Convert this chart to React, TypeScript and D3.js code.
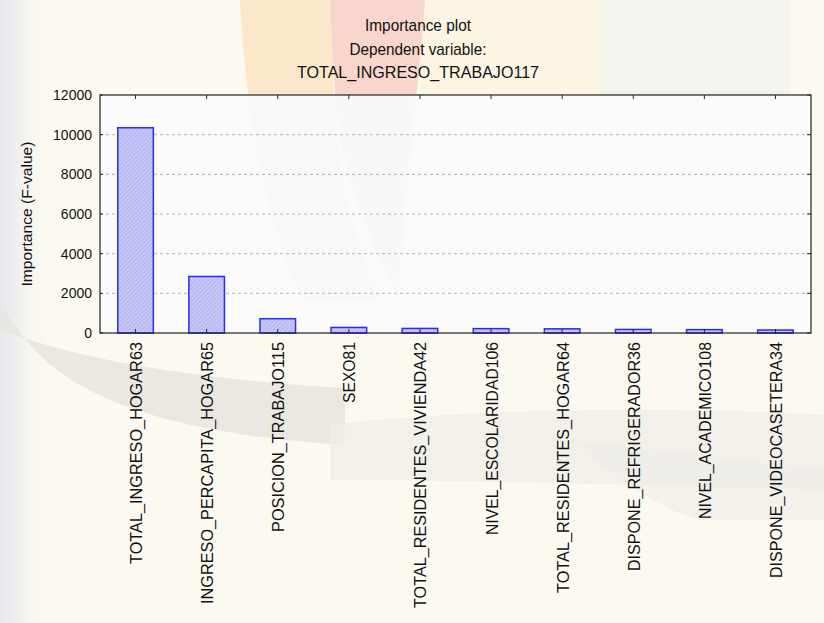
import React from "react";
import * as d3 from "d3";

const categories = [
  "TOTAL_INGRESO_HOGAR63",
  "INGRESO_PERCAPITA_HOGAR65",
  "POSICION_TRABAJO115",
  "SEXO81",
  "TOTAL_RESIDENTES_VIVIENDA42",
  "NIVEL_ESCOLARIDAD106",
  "TOTAL_RESIDENTES_HOGAR64",
  "DISPONE_REFRIGERADOR36",
  "NIVEL_ACADEMICO108",
  "DISPONE_VIDEOCASETERA34",
];
const importance = [10350, 2850, 720, 280, 230, 220, 210, 180, 170, 150];
const yTicks = [0, 2000, 4000, 6000, 8000, 10000, 12000];
const titleLines = ["Importance plot", "Dependent variable:", "TOTAL_INGRESO_TRABAJO117"];
const yLabel = "Importance (F-value)";

const W = 824;
const H = 623;
const left = 100;
const right = 811;
const top = 95;
const bottom = 333;

// approximate rendered label lengths (px)
const labelLen = [222, 262, 190, 61, 266, 193, 251, 229, 177, 236];

export default function App() {
  const x = d3.scaleBand<string>().domain(categories).range([left, right]).paddingInner(0.5).paddingOuter(0.25);
  const y = d3.scaleLinear().domain([0, 12000]).range([bottom, top]);
  const font = "'Liberation Sans', Arial, sans-serif";

  return (
    <svg width={W} height={H} style={{ position: "absolute", left: 0, top: 0, display: "block" }}>
      <defs>
        <pattern id="hatch" width="3" height="3" patternUnits="userSpaceOnUse" patternTransform="rotate(45)">
          <rect width="3" height="3" fill="#c8c8f8" />
          <line x1="0" y1="0" x2="0" y2="3" stroke="#a4a4ec" strokeWidth="1.2" />
        </pattern>
        <linearGradient id="leftfade" x1="0" x2="1" y1="0" y2="0">
          <stop offset="0" stopColor="#e6e6ee" />
          <stop offset="1" stopColor="#fbf9f0" stopOpacity="0" />
        </linearGradient>
      </defs>
      {/* page background & watermark */}
      <rect x={0} y={0} width={W} height={H} fill="#fcfaf0" />
      <rect x={0} y={0} width={60} height={H} fill="url(#leftfade)" />
      <path d="M600,0 L790,0 L790,100 L600,100 Z" fill="#f3f1ec" opacity={0.8} />
      <path d="M420,0 L600,0 L600,100 L420,100 Z" fill="#fcf4e2" opacity={0.9} />
      <path d="M240,0 L335,0 C330,90 330,180 380,300 L300,300 C260,200 245,100 240,0 Z" fill="#fbe6c6" opacity={0.9} />
      <path d="M330,0 L425,0 C420,80 405,180 398,300 C370,240 340,170 335,100 Z" fill="#f7d2ca" opacity={0.9} />
      <path d="M0,300 C40,380 120,430 345,445 L345,388 C200,380 80,360 0,330 Z" fill="#e8e5df" opacity={0.9} />
      <path d="M330,425 C450,410 650,405 824,415 L824,490 C650,485 450,480 330,480 Z" fill="#efede6" opacity={0.8} />
      <path d="M570,440 C620,480 660,510 700,520 L824,520 L824,470 Z" fill="#ecebe6" opacity={0.6} />
      {/* plot background */}
      <rect x={left} y={top} width={right - left} height={bottom - top} fill="#f7f7fa" opacity={0.85} />
      <rect x={left} y={top} width={right - left} height={bottom - top} fill="#ffffff" opacity={0.4} />
      {/* gridlines */}
      {yTicks.filter((t) => t > 0 && t < 12000).map((t) => (
        <line key={"g" + t} x1={left} x2={right} y1={y(t)} y2={y(t)} stroke="#b4b4b4" strokeWidth={1} strokeDasharray="3,3" />
      ))}
      {/* bars */}
      {categories.map((c, i) => (
        <rect
          key={c}
          x={x(c)!}
          y={y(importance[i])}
          width={x.bandwidth()}
          height={bottom - y(importance[i])}
          fill="url(#hatch)"
          stroke="#2b2bf5"
          strokeWidth={1.5}
        />
      ))}
      {/* frame */}
      <rect x={left} y={top} width={right - left} height={bottom - top} fill="none" stroke="#222" strokeWidth={1.2} />
      {/* ticks: top & bottom at band centers */}
      {categories.map((c) => {
        const cx = x(c)! + x.bandwidth() / 2;
        return (
          <g key={"t" + c}>
            <line x1={cx} x2={cx} y1={top} y2={top + 4} stroke="#222" />
            <line x1={cx} x2={cx} y1={bottom} y2={bottom - 4} stroke="#222" />
          </g>
        );
      })}
      {yTicks.map((t) => (
        <g key={"yt" + t}>
          <line x1={right} x2={right - 4} y1={y(t)} y2={y(t)} stroke="#222" />
          <line x1={left} x2={left + 3} y1={y(t)} y2={y(t)} stroke="#222" />
          <text x={92} y={y(t)} dy="0.36em" textAnchor="end" fontFamily={font} fontSize={14} fill="#111">
            {t}
          </text>
        </g>
      ))}
      {/* x labels */}
      {categories.map((c, i) => {
        const cx = x(c)! + x.bandwidth() / 2;
        return (
          <text
            key={"xl" + c}
            transform={`translate(${cx + 6.5},342) rotate(-90)`}
            textAnchor="end"
            fontFamily={font}
            fontSize={17}
            fill="#111"
            textLength={labelLen[i]}
            lengthAdjust="spacingAndGlyphs"
          >
            {c}
          </text>
        );
      })}
      {/* y label */}
      <text
        transform={`translate(32,214) rotate(-90)`}
        textAnchor="middle"
        fontFamily={font}
        fontSize={14}
        fill="#111"
        textLength={145}
        lengthAdjust="spacingAndGlyphs"
      >
        {yLabel}
      </text>
      {/* title */}
      {titleLines.map((t, i) => (
        <text
          key={"ti" + i}
          x={418}
          y={[31, 55, 78][i]}
          textAnchor="middle"
          fontFamily={font}
          fontSize={17}
          fill="#111"
          textLength={[106, 137, 242][i]}
          lengthAdjust="spacingAndGlyphs"
        >
          {t}
        </text>
      ))}
    </svg>
  );
}
